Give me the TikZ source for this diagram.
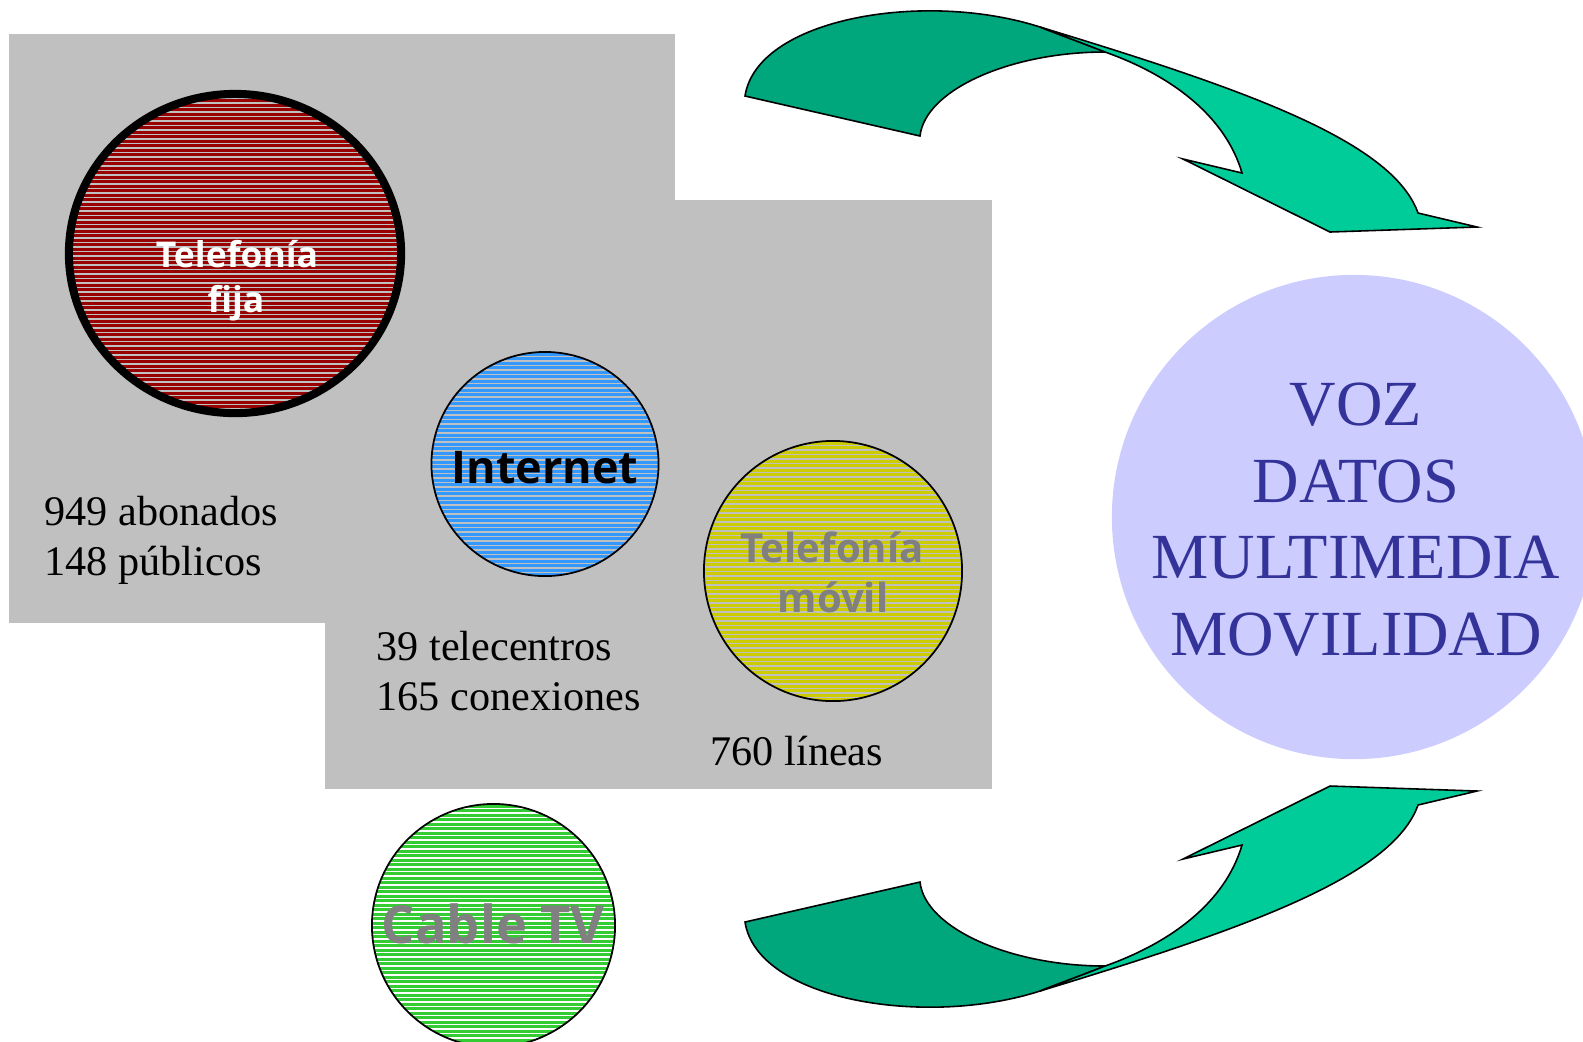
\documentclass[tikz,border=0pt]{standalone}
\usepackage{fontspec}
\setmainfont{Liberation Serif}
\newfontfamily\humfont{Open Sans}
\usetikzlibrary{shapes.geometric}
\definecolor{bggrey}{HTML}{C0C0C0}
\definecolor{fijared}{HTML}{990000}
\definecolor{netblue}{HTML}{3399FF}
\definecolor{movyellow}{HTML}{CCCC00}
\definecolor{cablegreen}{HTML}{33CC33}
\definecolor{lavender}{HTML}{CCCCFF}
\definecolor{vozblue}{HTML}{333399}
\definecolor{txtgrey}{HTML}{808080}
\definecolor{arrdark}{HTML}{00A67C}
\definecolor{arrlight}{HTML}{00CC99}
\tikzset{
  hatch/.style={path picture={\foreach \k in {0,...,80}{\draw[#1,line width=0.35pt]
      ([yshift=-\k*1.28pt]path picture bounding box.north west) --
      ([yshift=-\k*1.28pt]path picture bounding box.north east);}}},
  disc/.style={ellipse, draw=black, line width=0.5pt, inner sep=0pt},
  circlab/.style={inner sep=0pt, anchor=base},
  seriflab/.style={inner sep=0pt, anchor=base west, font=\fontsize{12pt}{14pt}\selectfont},
  vozlab/.style={inner sep=0pt, anchor=base, text=vozblue, font=\fontsize{18.3pt}{21.6pt}\selectfont},
  arrowdark/.style={fill=arrdark, draw=black, line width=0.45pt},
  arrowlight/.style={fill=arrlight, draw=black, line width=0.45pt},
}
\newcommand\drawGreenArrow{%
  \filldraw[arrowdark] (745,96) .. controls (757,18) and (925,-10) .. (1040,27)
     .. controls (1063,36) and (1085,44) .. (1105,52)
     .. controls (1010,52) and (925,90) .. (920,136) -- cycle;
  \filldraw[arrowlight] (1040,27) .. controls (1240,88) and (1392,140) .. (1418,213)
     -- (1477,227) -- (1330,232) -- (1183,159) -- (1242,173)
     .. controls (1225,115) and (1170,75) .. (1105,52)
     .. controls (1085,44) and (1063,36) .. (1040,27) -- cycle;
}
\begin{document}
\begin{tikzpicture}[x=0.01cm,y=-0.01cm]
\useasboundingbox (0,0) rectangle (1583,1041);
% grey panels
\fill[bggrey] (9,34) rectangle (675,623);
\fill[bggrey] (325,200) rectangle (992,789);
% circles
\node[disc, line width=2.3pt, fill=fijared, hatch=bggrey, minimum width=3.32cm, minimum height=3.19cm] (fija) at (235,253.5) {};
\node[disc, fill=netblue, hatch=bggrey, minimum width=2.27cm, minimum height=2.24cm] (internet) at (545,464) {};
\node[disc, fill=movyellow, hatch=bggrey, minimum width=2.58cm, minimum height=2.60cm] (movil) at (833,571) {};
\node[disc, fill=cablegreen, hatch=white, minimum width=2.43cm, minimum height=2.43cm] (cable) at (493.5,925.5) {};
\node[circle, fill=lavender, inner sep=0pt, minimum size=4.84cm] (voz) at (1354,517) {};
% circle labels
\node[circlab, text=white, font=\humfont\bfseries\fontsize{10.1pt}{12pt}\selectfont] (fija1) at (237,267) {Telefonía};
\node[circlab, text=white, font=\humfont\bfseries\fontsize{10.1pt}{12pt}\selectfont] (fija2) at (236,312) {fija};
\node[circlab, text=black, font=\humfont\bfseries\fontsize{12.8pt}{15pt}\selectfont] (net1) at (545,483) {Internet};
\node[circlab, text=txtgrey, font=\humfont\bfseries\fontsize{11.4pt}{14pt}\selectfont] (mov1) at (832,562) {Telefonía};
\node[circlab, text=txtgrey, font=\humfont\bfseries\fontsize{11.4pt}{14pt}\selectfont] (mov2) at (833,612) {móvil};
\node[circlab, text=txtgrey, font=\humfont\bfseries\fontsize{14.9pt}{18pt}\selectfont] (cab1) at (493.5,943) {Cable TV};
% figures
\node[seriflab] (t1) at (44,525) {949 abonados};
\node[seriflab] (t2) at (44,575) {148 públicos};
\node[seriflab] (t3) at (376,660) {39 telecentros};
\node[seriflab] (t4) at (376,710) {165 conexiones};
\node[seriflab] (t5) at (710,765) {760 líneas};
% services
\node[vozlab] (v1) at (1356,425) {VOZ};
\node[vozlab] (v2) at (1356,502) {DATOS};
\node[vozlab] (v3) at (1356,578) {MULTIMEDIA};
\node[vozlab] (v4) at (1356,655) {MOVILIDAD};
% arrows
\drawGreenArrow
\begin{scope}[shift={(0,1018)}, yscale=-1]
\drawGreenArrow
\end{scope}
\end{tikzpicture}
\end{document}
